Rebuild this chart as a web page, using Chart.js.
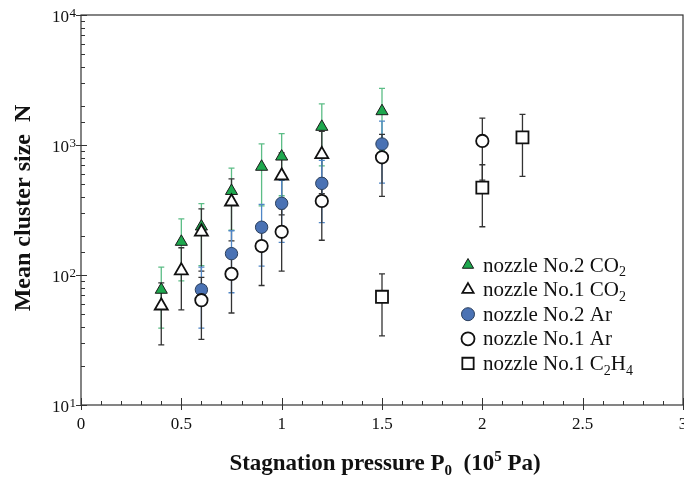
<!DOCTYPE html>
<html>
<head>
<meta charset="utf-8">
<title>Mean cluster size vs stagnation pressure</title>
<script src="https://cdn.jsdelivr.net/npm/chart.js@4.4.1/dist/chart.umd.min.js"></script>
<style>
  html, body { margin: 0; padding: 0; background: #fff; overflow: hidden; }
  canvas { display: block; }
</style>
</head>
<body>
<canvas id="chart" width="684" height="478"></canvas>
<script>
const FONT = "'Liberation Serif', 'Times New Roman', serif";

// tick labels
const xTickLabels = ['0', '0.5', '1', '1.5', '2', '2.5', '3'];
const yTickExponents = ['1', '2', '3', '4'];

// nozzle No.2, CO2
const pressureCO2No2 = [0.4, 0.5, 0.6, 0.75, 0.9, 1.0, 1.2, 1.5];
const sizeCO2No2 = [77, 180, 236, 443, 680, 815, 1380, 1820];
const errCO2No2 = [38, 90, 118, 222, 340, 408, 690, 910];

// nozzle No.1, CO2
const pressureCO2No1 = [0.4, 0.5, 0.6, 0.75, 1.0, 1.2];
const sizeCO2No1 = [58, 108, 215, 366, 580, 847];
const errCO2No1 = [29, 54, 108, 183, 290, 424];

// nozzle No.2, Ar
const pressureArNo2 = [0.6, 0.75, 0.9, 1.0, 1.2, 1.5];
const sizeArNo2 = [77, 146, 233, 356, 507, 1018];
const errArNo2 = [38, 73, 116, 178, 254, 509];

// nozzle No.1, Ar
const pressureArNo1 = [0.6, 0.75, 0.9, 1.0, 1.2, 1.5, 2.0];
const sizeArNo1 = [64, 102, 167, 215, 371, 804, 1074];
const errArNo1 = [32, 51, 84, 108, 186, 402, 537];

// nozzle No.1, C2H4
const pressureC2H4No1 = [1.5, 2.0, 2.2];
const sizeC2H4No1 = [68, 470, 1146];
const errC2H4No1 = [34, 235, 573];

// legend text, split in runs for the subscripts
const legendLabels = [
  [{t: 'nozzle No.2 CO'}, {t: '2', sub: true}],
  [{t: 'nozzle No.1 CO'}, {t: '2', sub: true}],
  [{t: 'nozzle No.2 Ar'}],
  [{t: 'nozzle No.1 Ar'}],
  [{t: 'nozzle No.1 C'}, {t: '2', sub: true}, {t: 'H'}, {t: '4', sub: true}]
];
const xTitle = [{t: 'Stagnation pressure P'}, {t: '0', sub: true}, {t: '  (10'}, {t: '5', sup: true}, {t: ' Pa)'}];
const yTitle = [{t: 'Mean cluster size  N'}];

function points(xs, ys) {
  return xs.map((x, i) => ({x: x, y: ys[i]}));
}

// draw a line of text with sub/superscripts, y is the baseline
function drawRuns(ctx, runs, x, y, size, weight, align) {
  const big = weight + ' ' + size + 'px ' + FONT;
  const small = weight + ' ' + Math.round(size * 0.65) + 'px ' + FONT;
  let w = 0;
  runs.forEach(r => {
    ctx.font = (r.sub || r.sup) ? small : big;
    w += ctx.measureText(r.t).width;
  });
  let cx = align === 'center' ? x - w / 2 : x;
  ctx.textAlign = 'left';
  ctx.textBaseline = 'alphabetic';
  runs.forEach(r => {
    ctx.font = (r.sub || r.sup) ? small : big;
    const dy = r.sub ? size * 0.22 : (r.sup ? -size * 0.38 : 0);
    ctx.fillText(r.t, cx, y + dy);
    cx += ctx.measureText(r.t).width;
  });
}

const datasets = [
  {
    label: 'nozzle No.2 CO2', data: points(pressureCO2No2, sizeCO2No2), err: errCO2No2,
    errColor: '#5cbd86', pointStyle: 'triangle', pointRadius: 7,
    backgroundColor: '#1ea84e', borderColor: '#1a1a1a', borderWidth: 1, order: 5
  },
  {
    label: 'nozzle No.1 CO2', data: points(pressureCO2No1, sizeCO2No1), err: errCO2No1,
    errColor: '#333333', pointStyle: 'triangle', pointRadius: 7.5,
    backgroundColor: '#ffffff', borderColor: '#111111', borderWidth: 1.8, order: 3
  },
  {
    label: 'nozzle No.2 Ar', data: points(pressureArNo2, sizeArNo2), err: errArNo2,
    errColor: '#4f86c6', pointStyle: 'circle', pointRadius: 6.2,
    backgroundColor: '#4a72b4', borderColor: '#2b3f5c', borderWidth: 1, order: 4
  },
  {
    label: 'nozzle No.1 Ar', data: points(pressureArNo1, sizeArNo1), err: errArNo1,
    errColor: '#333333', pointStyle: 'circle', pointRadius: 6.2,
    backgroundColor: '#ffffff', borderColor: '#111111', borderWidth: 1.8, order: 2
  },
  {
    label: 'nozzle No.1 C2H4', data: points(pressureC2H4No1, sizeC2H4No1), err: errC2H4No1,
    errColor: '#333333', pointStyle: 'rect', pointRadius: 8.5,
    backgroundColor: '#ffffff', borderColor: '#111111', borderWidth: 1.8, order: 1
  }
];
datasets.forEach(d => {
  d.pointHoverRadius = d.pointRadius;
  d.pointBackgroundColor = d.backgroundColor;
  d.pointBorderColor = d.borderColor;
  d.pointBorderWidth = d.borderWidth;
  d.showLine = false;
});

// frame, inward ticks and error bars, under the markers
const underlay = {
  id: 'underlay',
  beforeDatasetsDraw(chart) {
    const ctx = chart.ctx;
    const a = chart.chartArea;
    const xs = chart.scales.x, ys = chart.scales.y;
    ctx.save();
    ctx.strokeStyle = '#333';
    ctx.lineWidth = 1.2;
    ctx.strokeRect(a.left, a.top, a.right - a.left, a.bottom - a.top);

    ctx.lineWidth = 1;
    ctx.beginPath();
    xs.ticks.forEach(t => {
      const px = Math.round(xs.getPixelForValue(t.value)) + 0.5;
      const major = Math.abs(t.value * 2 - Math.round(t.value * 2)) < 1e-6;
      ctx.moveTo(px, a.bottom - (major ? 7 : 4));
      ctx.lineTo(px, a.bottom + (major ? 5 : 0));
    });
    ys.ticks.forEach(t => {
      const py = Math.round(ys.getPixelForValue(t.value)) + 0.5;
      const lg = Math.log10(t.value);
      const major = Math.abs(lg - Math.round(lg)) < 1e-9;
      ctx.moveTo(a.left - (major ? 5 : 0), py);
      ctx.lineTo(a.left + (major ? 6 : 4), py);
    });
    ctx.stroke();

    chart.data.datasets.forEach(ds => {
      ctx.strokeStyle = ds.errColor;
      ctx.lineWidth = 1.3;
      ctx.beginPath();
      ds.data.forEach((p, i) => {
        const px = xs.getPixelForValue(p.x);
        const hi = ys.getPixelForValue(p.y + ds.err[i]);
        const lo = ys.getPixelForValue(p.y - ds.err[i]);
        ctx.moveTo(px, hi); ctx.lineTo(px, lo);
        ctx.moveTo(px - 3, hi); ctx.lineTo(px + 3, hi);
        ctx.moveTo(px - 3, lo); ctx.lineTo(px + 3, lo);
      });
      ctx.stroke();
    });
    ctx.restore();
  }
};

// y tick labels (powers of ten), axis titles and the legend
const overlay = {
  id: 'overlay',
  afterDraw(chart) {
    const ctx = chart.ctx;
    const a = chart.chartArea;
    const ys = chart.scales.y;
    ctx.save();
    ctx.fillStyle = '#111';

    yTickExponents.forEach(e => {
      const py = ys.getPixelForValue(Math.pow(10, +e));
      ctx.font = '13px ' + FONT;
      ctx.textAlign = 'right';
      ctx.textBaseline = 'alphabetic';
      const ew = ctx.measureText(e).width;
      ctx.fillText(e, 76, py + 1.5);
      ctx.font = '17px ' + FONT;
      ctx.fillText('10', 76 - ew - 0.5, py + 6.5);
    });

    drawRuns(ctx, xTitle, (a.left + a.right) / 2 + 3, 470, 23, 'bold', 'center');

    ctx.save();
    ctx.translate(22, (a.top + a.bottom) / 2 - 2);
    ctx.rotate(-Math.PI / 2);
    drawRuns(ctx, yTitle, 0, 8, 24, 'bold', 'center');
    ctx.restore();

    chart.data.datasets.forEach((ds, i) => {
      const y = 265 + i * 24.6;
      ctx.fillStyle = ds.backgroundColor;
      ctx.strokeStyle = ds.borderColor;
      ctx.lineWidth = ds.borderWidth;
      Chart.helpers.drawPoint(ctx, {
        pointStyle: ds.pointStyle,
        radius: ds.pointStyle === 'rect' ? 8 : 6.5,
        rotation: 0,
        borderWidth: ds.borderWidth
      }, 468, y);
      ctx.fillStyle = '#111';
      drawRuns(ctx, legendLabels[i], 483, y + 6.5, 21, 'normal', 'left');
    });
    ctx.restore();
  }
};

new Chart(document.getElementById('chart'), {
  type: 'scatter',
  data: {datasets: datasets},
  options: {
    responsive: false,
    animation: false,
    events: [],
    layout: {autoPadding: false, padding: {left: 0, top: 15, right: 1, bottom: 0}},
    plugins: {
      legend: {display: false},
      tooltip: {enabled: false}
    },
    scales: {
      x: {
        type: 'linear',
        min: 0,
        max: 3,
        grid: {display: false, drawTicks: false},
        border: {display: false},
        ticks: {
          stepSize: 0.1,
          autoSkip: false,
          maxRotation: 0,
          padding: 9,
          color: '#111',
          font: {family: FONT, size: 17},
          callback(v) {
            const k = Math.round(v * 2);
            return Math.abs(v * 2 - k) < 1e-6 ? xTickLabels[k] : '';
          }
        },
        afterFit(s) {
          s.height = 73;
          s.paddingLeft = 0;
          s.paddingRight = 0;
        }
      },
      y: {
        type: 'logarithmic',
        min: 10,
        max: 10000,
        grid: {display: false, drawTicks: false},
        border: {display: false},
        ticks: {display: false},
        afterFit(s) {
          s.width = 81;
        }
      }
    }
  },
  plugins: [underlay, overlay]
});
</script>
</body>
</html>
